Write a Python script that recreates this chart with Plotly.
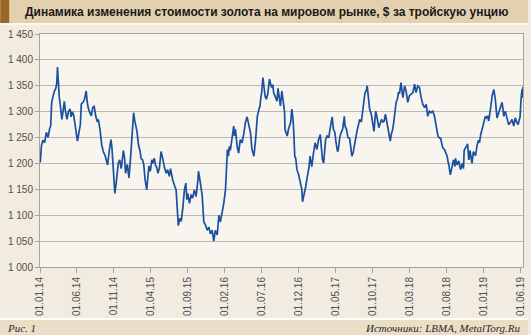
import plotly.graph_objects as go

# Gold price, LBMA, USD per troy ounce
dates = [
    "2014-01-02", "2014-01-07", "2014-01-13", "2014-01-20", "2014-01-27", "2014-02-03", "2014-02-10",
    "2014-02-14", "2014-02-18", "2014-02-24", "2014-02-28", "2014-03-07", "2014-03-11", "2014-03-14",
    "2014-03-17", "2014-03-21", "2014-03-26", "2014-04-01", "2014-04-04", "2014-04-11", "2014-04-16",
    "2014-04-22", "2014-04-28", "2014-05-05", "2014-05-09", "2014-05-14", "2014-05-20", "2014-05-26",
    "2014-05-30", "2014-06-04", "2014-06-10", "2014-06-16", "2014-06-20", "2014-06-27", "2014-07-03",
    "2014-07-10", "2014-07-14", "2014-07-18", "2014-07-25", "2014-07-31", "2014-08-06", "2014-08-12",
    "2014-08-18", "2014-08-25", "2014-08-29", "2014-09-05", "2014-09-12", "2014-09-19", "2014-09-26",
    "2014-10-02", "2014-10-06", "2014-10-13", "2014-10-20", "2014-10-24", "2014-10-31", "2014-11-05",
    "2014-11-10", "2014-11-14", "2014-11-19", "2014-11-25", "2014-12-01", "2014-12-05", "2014-12-10",
    "2014-12-15", "2014-12-19", "2014-12-26", "2015-01-02", "2015-01-09", "2015-01-14", "2015-01-21",
    "2015-01-26", "2015-01-30", "2015-02-04", "2015-02-10", "2015-02-16", "2015-02-21", "2015-02-27",
    "2015-03-04", "2015-03-09", "2015-03-16", "2015-03-20", "2015-03-25", "2015-03-31", "2015-04-06",
    "2015-04-10", "2015-04-16", "2015-04-21", "2015-04-27", "2015-05-01", "2015-05-07", "2015-05-14",
    "2015-05-19", "2015-05-22", "2015-05-28", "2015-06-04", "2015-06-10", "2015-06-17", "2015-06-22",
    "2015-06-26", "2015-07-01", "2015-07-08", "2015-07-15", "2015-07-20", "2015-07-24", "2015-07-30",
    "2015-08-05", "2015-08-12", "2015-08-18", "2015-08-24", "2015-08-28", "2015-09-01", "2015-09-08",
    "2015-09-15", "2015-09-21", "2015-09-28", "2015-10-05", "2015-10-12", "2015-10-15", "2015-10-22",
    "2015-10-27", "2015-10-30", "2015-11-06", "2015-11-13", "2015-11-20", "2015-11-27", "2015-12-03",
    "2015-12-10", "2015-12-17", "2015-12-23", "2015-12-31", "2016-01-07", "2016-01-13", "2016-01-20",
    "2016-01-27", "2016-02-03", "2016-02-08", "2016-02-11", "2016-02-15", "2016-02-19", "2016-02-23",
    "2016-03-01", "2016-03-08", "2016-03-11", "2016-03-15", "2016-03-22", "2016-03-28", "2016-04-04",
    "2016-04-11", "2016-04-18", "2016-04-25", "2016-05-02", "2016-05-09", "2016-05-16", "2016-05-22",
    "2016-05-30", "2016-06-06", "2016-06-10", "2016-06-13", "2016-06-20", "2016-06-24", "2016-06-27",
    "2016-07-01", "2016-07-06", "2016-07-11", "2016-07-15", "2016-07-20", "2016-07-26", "2016-08-02",
    "2016-08-05", "2016-08-10", "2016-08-16", "2016-08-19", "2016-08-24", "2016-08-30", "2016-09-02",
    "2016-09-06", "2016-09-12", "2016-09-16", "2016-09-22", "2016-09-27", "2016-10-03", "2016-10-05",
    "2016-10-10", "2016-10-14", "2016-10-19", "2016-10-24", "2016-10-28", "2016-11-02", "2016-11-07",
    "2016-11-10", "2016-11-14", "2016-11-18", "2016-11-23", "2016-11-30", "2016-12-06", "2016-12-13",
    "2016-12-16", "2016-12-21", "2016-12-29", "2017-01-05", "2017-01-12", "2017-01-16", "2017-01-23",
    "2017-01-30", "2017-02-06", "2017-02-13", "2017-02-20", "2017-02-27", "2017-03-03", "2017-03-08",
    "2017-03-13", "2017-03-17", "2017-03-21", "2017-03-27", "2017-04-03", "2017-04-08", "2017-04-12",
    "2017-04-17", "2017-04-22", "2017-04-28", "2017-05-03", "2017-05-09", "2017-05-12", "2017-05-18",
    "2017-05-24", "2017-05-30", "2017-06-06", "2017-06-09", "2017-06-15", "2017-06-21", "2017-06-28",
    "2017-07-03", "2017-07-07", "2017-07-12", "2017-07-18", "2017-07-24", "2017-07-28", "2017-08-02",
    "2017-08-08", "2017-08-15", "2017-08-19", "2017-08-24", "2017-08-30", "2017-09-04", "2017-09-08",
    "2017-09-12", "2017-09-14", "2017-09-18", "2017-09-25", "2017-10-02", "2017-10-06", "2017-10-10",
    "2017-10-13", "2017-10-16", "2017-10-20", "2017-10-26", "2017-10-30", "2017-11-06", "2017-11-12",
    "2017-11-17", "2017-11-22", "2017-11-27", "2017-12-04", "2017-12-09", "2017-12-12", "2017-12-16",
    "2017-12-22", "2017-12-27", "2017-12-31", "2018-01-05", "2018-01-10", "2018-01-15", "2018-01-19",
    "2018-01-25", "2018-01-30", "2018-02-02", "2018-02-09", "2018-02-15", "2018-02-22", "2018-03-01",
    "2018-03-08", "2018-03-15", "2018-03-22", "2018-03-28", "2018-04-04", "2018-04-11", "2018-04-18",
    "2018-04-25", "2018-05-02", "2018-05-09", "2018-05-15", "2018-05-22", "2018-05-29", "2018-06-05",
    "2018-06-12", "2018-06-19", "2018-06-26", "2018-07-02", "2018-07-07", "2018-07-11", "2018-07-16",
    "2018-07-23", "2018-07-30", "2018-08-03", "2018-08-06", "2018-08-10", "2018-08-16", "2018-08-21",
    "2018-08-24", "2018-08-29", "2018-09-04", "2018-09-06", "2018-09-13", "2018-09-20", "2018-09-27",
    "2018-10-04", "2018-10-09", "2018-10-12", "2018-10-17", "2018-10-22", "2018-10-26", "2018-10-31",
    "2018-11-05", "2018-11-13", "2018-11-19", "2018-11-23", "2018-11-28", "2018-12-04", "2018-12-10",
    "2018-12-14", "2018-12-19", "2018-12-27", "2019-01-02", "2019-01-07", "2019-01-11", "2019-01-16",
    "2019-01-21", "2019-01-25", "2019-01-30", "2019-02-04", "2019-02-11", "2019-02-17", "2019-02-24",
    "2019-03-03", "2019-03-10", "2019-03-17", "2019-03-24", "2019-03-30", "2019-04-06", "2019-04-13",
    "2019-04-20", "2019-04-27", "2019-05-04", "2019-05-10", "2019-05-17", "2019-05-22", "2019-05-27",
    "2019-05-30", "2019-06-03", "2019-06-05", "2019-06-07", "2019-06-09", "2019-06-11",
]

prices = [
    1202, 1235, 1245, 1240, 1260, 1250, 1268,
    1272, 1318, 1330, 1338, 1345, 1355, 1386,
    1360, 1330, 1310, 1285, 1295, 1320, 1300,
    1285, 1300, 1305, 1290, 1300, 1292, 1275,
    1255, 1243, 1259, 1275, 1315, 1318, 1324,
    1340, 1320, 1308, 1298, 1292, 1308, 1310,
    1292, 1280, 1285, 1265, 1235, 1222, 1215,
    1200, 1197, 1225, 1246, 1230, 1180, 1142,
    1160, 1175, 1200, 1207, 1190, 1205, 1225,
    1210, 1181, 1198, 1172, 1214, 1259, 1298,
    1282, 1272, 1262, 1236, 1225, 1210, 1207,
    1197, 1170, 1149, 1168, 1195, 1185, 1207,
    1200, 1210, 1197, 1191, 1181, 1190, 1223,
    1215, 1207, 1192, 1181, 1188, 1175, 1190,
    1178, 1168, 1158, 1149, 1110, 1080, 1094,
    1088, 1116, 1149, 1162, 1130, 1142, 1123,
    1140, 1133, 1149, 1136, 1165, 1185, 1165,
    1149, 1139, 1087, 1081, 1071, 1077, 1064,
    1071, 1050, 1071, 1062, 1100, 1087, 1103,
    1123, 1149, 1195, 1227, 1214, 1233, 1225,
    1246, 1272, 1253, 1266, 1233, 1220, 1246,
    1240, 1256, 1279, 1290, 1275, 1259, 1227,
    1214, 1246, 1270, 1291, 1305, 1311, 1325,
    1337, 1366, 1350, 1330, 1324, 1334, 1363,
    1356, 1347, 1352, 1337, 1331, 1324, 1320,
    1345, 1327, 1311, 1340, 1325, 1300, 1265,
    1256, 1253, 1266, 1272, 1279, 1305, 1285,
    1260, 1214, 1210, 1188, 1178, 1162, 1150,
    1126, 1136, 1155, 1175, 1194, 1214, 1194,
    1220, 1240, 1227, 1246, 1256, 1230, 1207,
    1201, 1230, 1246, 1253, 1250, 1266, 1282,
    1290, 1266, 1260, 1240, 1223, 1226, 1250,
    1260, 1266, 1291, 1272, 1266, 1250, 1248,
    1233, 1214, 1220, 1240, 1252, 1262, 1272,
    1285, 1280, 1298, 1321, 1337, 1340, 1350,
    1332, 1320, 1305, 1295, 1268, 1262, 1285,
    1301, 1295, 1282, 1269, 1275, 1285, 1280,
    1282, 1295, 1282, 1266, 1250, 1243, 1256,
    1266, 1282, 1305, 1318, 1324, 1338, 1335,
    1356, 1337, 1327, 1350, 1340, 1318, 1331,
    1334, 1337, 1353, 1337, 1350, 1347, 1327,
    1314, 1308, 1314, 1291, 1301, 1298, 1301,
    1291, 1272, 1253, 1249, 1249, 1240, 1230,
    1227, 1220, 1214, 1205, 1197, 1178, 1192,
    1197, 1207, 1194, 1210, 1197, 1205, 1188,
    1200, 1190, 1225, 1230, 1233, 1238, 1207,
    1225, 1200, 1223, 1220, 1215, 1235, 1245,
    1240, 1256, 1270, 1285, 1291, 1288, 1292,
    1282, 1300, 1311, 1331, 1343, 1324, 1288,
    1298, 1308, 1318, 1291, 1301, 1288, 1275,
    1279, 1285, 1272, 1288, 1279, 1275, 1285,
    1290, 1325, 1337, 1343, 1327, 1348,
]

tick_dates = ["2014-01-01", "2014-06-01", "2014-11-01", "2015-04-01", "2015-09-01", "2016-02-01",
              "2016-07-01", "2016-12-01", "2017-05-01", "2017-10-01", "2018-03-01", "2018-08-01",
              "2019-01-01", "2019-06-01"]
tick_text = ["01.01.14", "01.06.14", "01.11.14", "01.04.15", "01.09.15", "01.02.16", "01.07.16",
             "01.12.16", "01.05.17", "01.10.17", "01.03.18", "01.08.18", "01.01.19", "01.06.19"]

y_ticks = [1000, 1050, 1100, 1150, 1200, 1250, 1300, 1350, 1400, 1450]
y_text = ["1 000", "1 050", "1 100", "1 150", "1 200", "1 250", "1 300", "1 350", "1 400", "1 450"]

title = "Динамика изменения стоимости золота на мировом рынке, $ за тройскую унцию"
fig_label = "Рис. 1"
source = "Источники: LBMA, MetalTorg.Ru"

W, H = 531, 335
ML, MR, MT, MB = 40, 5, 34, 68
PW, PH = W - ML - MR, H - MT - MB


def px(x):
    return (x - ML) / PW


def py(y):
    return (H - MB - y) / PH


fig = go.Figure()
fig.add_trace(go.Scatter(
    x=dates, y=prices, mode="lines",
    line=dict(color="#1b50a0", width=1.7),
    hoverinfo="skip", showlegend=False,
))

shapes = [
    # header band with brown accent
    dict(type="rect", xref="paper", yref="paper", x0=px(0), x1=px(W), y0=py(23), y1=py(0),
         fillcolor="#e3d0ae", line=dict(width=0), layer="below"),
    dict(type="rect", xref="paper", yref="paper", x0=px(0), x1=px(9), y0=py(23), y1=py(0),
         fillcolor="#9b6526", line=dict(width=0), layer="below"),
    dict(type="rect", xref="paper", yref="paper", x0=px(0), x1=px(W), y0=py(25), y1=py(23),
         fillcolor="#fbf8f2", line=dict(width=0), layer="below"),
    # footer band
    dict(type="rect", xref="paper", yref="paper", x0=px(0), x1=px(W), y0=py(320), y1=py(318),
         fillcolor="#ffffff", line=dict(width=0), layer="below"),
    dict(type="rect", xref="paper", yref="paper", x0=px(0), x1=px(W), y0=py(H), y1=py(320),
         fillcolor="#ebdec6", line=dict(width=0), layer="below"),
]

annotations = [
    dict(text=title, xref="paper", yref="paper", x=px(23), y=py(12), xanchor="left", yanchor="middle",
         showarrow=False, font=dict(family="Liberation Sans, Arial, sans-serif", size=12, color="#1a1a1a",
                                    weight=700)),
    dict(text=fig_label, xref="paper", yref="paper", x=px(5), y=py(327.5), xanchor="left", yanchor="middle",
         showarrow=False, font=dict(family="Liberation Serif, Times New Roman, serif", size=11,
                                    color="#2a2a2a", style="italic")),
    dict(text=source, xref="paper", yref="paper", x=px(526), y=py(327.5), xanchor="right", yanchor="middle",
         showarrow=False, font=dict(family="Liberation Serif, Times New Roman, serif", size=11,
                                    color="#2a2a2a", style="italic")),
]

fig.update_layout(
    width=W, height=H,
    margin=dict(l=ML, r=MR, t=MT, b=MB, pad=0),
    paper_bgcolor="#f2ebdf",
    plot_bgcolor="#f8f5ee",
    shapes=shapes,
    annotations=annotations,
    font=dict(family="Liberation Sans, Arial, sans-serif", size=10, color="#505050"),
)

fig.update_xaxes(
    type="date", range=["2014-01-01", "2019-06-11"],
    tickvals=tick_dates, ticktext=tick_text, tickangle=-90,
    ticks="outside", ticklen=5, tickcolor="#a9a49c", tickwidth=1,
    showgrid=False, showline=True, linecolor="#a9a49c", linewidth=1, mirror=True,
    zeroline=False, tickfont=dict(size=10, color="#505050"),
)
fig.update_yaxes(
    range=[1000, 1450], tickvals=y_ticks, ticktext=y_text,
    ticks="outside", ticklen=4, tickcolor="#a9a49c", tickwidth=1,
    showgrid=True, gridcolor="#bdb8b0", gridwidth=1,
    showline=True, linecolor="#a9a49c", linewidth=1, mirror=True,
    zeroline=False, tickfont=dict(size=10, color="#505050"),
)

fig.write_html("out.html")
